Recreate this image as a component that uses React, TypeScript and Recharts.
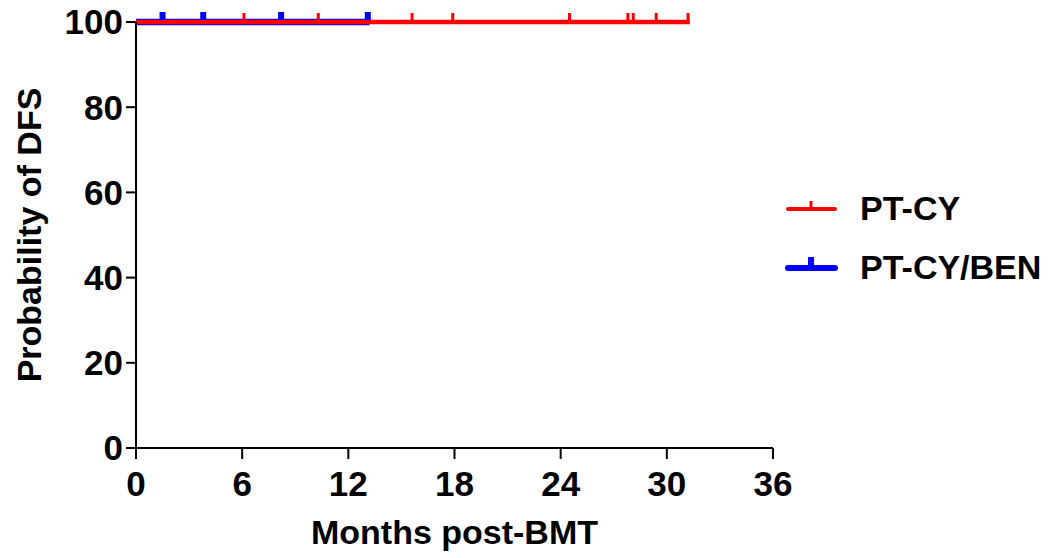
import React from "react";
import { ComposedChart, Line, Scatter, XAxis, YAxis, Legend } from "recharts";

// survival curves stay at 100% — line ends at last follow-up
const ptCyEnd = 31.3;
const ptCyBenEnd = 13.2;
// censored patients (months)
const ptCyCensored = [6.1, 10.3, 15.6, 17.9, 24.5, 27.8, 28.1, 29.4, 31.2];
const ptCyBenCensored = [1.5, 3.8, 8.2, 13.1];
const xTicks = [0, 6, 12, 18, 24, 30, 36];
const yTicks = [0, 20, 40, 60, 80, 100];

const FONT = "'Liberation Sans', Arial, Helvetica, sans-serif";
const RED = "#ff0000";
const BLUE = "#0000ff";

const curve = (end: number) => [
  { month: 0, prob: 100 },
  { month: end, prob: 100 },
];
const marks = (times: number[]) => times.map((t) => ({ month: t, prob: 100 }));

const RedMark = (props: any) => {
  const { cx, cy } = props;
  return <line x1={cx} y1={cy - 1} x2={cx} y2={cy - 9} stroke={RED} strokeWidth={3} />;
};

const BlueMark = (props: any) => {
  const { cx, cy } = props;
  return <rect x={cx - 3} y={cy - 10} width={6} height={8} fill={BLUE} />;
};

const YTitle = (props: any) => {
  const { viewBox } = props;
  const cy = viewBox.y + viewBox.height / 2;
  return (
    <text
      x={41}
      y={cy}
      transform={`rotate(-90, 41, ${cy})`}
      textAnchor="middle"
      fontFamily={FONT}
      fontWeight="bold"
      fontSize={34}
      fill="#000"
    >
      Probability of DFS
    </text>
  );
};

const LegendBox = () => (
  <svg width={270} height={110}>
    <line x1={10} y1={29} x2={57} y2={29} stroke={RED} strokeWidth={4} strokeLinecap="round" />
    <line x1={33} y1={29} x2={33} y2={21} stroke={RED} strokeWidth={3} />
    <text x={82} y={40} fontFamily={FONT} fontWeight="bold" fontSize={34} fill="#000">
      PT-CY
    </text>
    <line x1={10} y1={88} x2={57} y2={88} stroke={BLUE} strokeWidth={6} strokeLinecap="round" />
    <rect x={30} y={77} width={6} height={10} fill={BLUE} />
    <text x={82} y={99} fontFamily={FONT} fontWeight="bold" fontSize={34} fill="#000">
      PT-CY/BEN
    </text>
  </svg>
);

export default function App() {
  return (
    <div style={{ position: "absolute", left: 0, top: 0, width: 1050, height: 558, background: "#fff" }}>
      <ComposedChart width={1050} height={558} margin={{ top: 22, right: 277, bottom: 0, left: 0 }}>
        <XAxis
          type="number"
          dataKey="month"
          domain={[0, 36]}
          ticks={xTicks}
          allowDataOverflow
          height={110}
          stroke="#000"
          strokeWidth={2}
          tickSize={11}
          tickMargin={12}
          tick={{ fill: "#000", fontSize: 35, fontWeight: "bold", fontFamily: FONT }}
          label={{
            value: "Months post-BMT",
            position: "insideBottom",
            offset: 14,
            fill: "#000",
            fontSize: 34,
            fontWeight: "bold",
            fontFamily: FONT,
          }}
        />
        <YAxis
          type="number"
          dataKey="prob"
          domain={[0, 100]}
          ticks={yTicks}
          width={136}
          stroke="#000"
          strokeWidth={2}
          tickSize={10}
          tickMargin={3}
          tick={{ fill: "#000", fontSize: 35, fontWeight: "bold", fontFamily: FONT }}
          label={<YTitle />}
        />
        <Legend
          layout="vertical"
          align="center"
          verticalAlign="middle"
          content={() => <LegendBox />}
          wrapperStyle={{ left: 778, top: 180, width: 270, height: 110 }}
        />
        <Line
          data={curve(ptCyBenEnd)}
          dataKey="prob"
          name="PT-CY/BEN"
          stroke={BLUE}
          strokeWidth={6.5}
          dot={false}
          activeDot={false}
          isAnimationActive={false}
        />
        <Line
          data={curve(ptCyEnd)}
          dataKey="prob"
          name="PT-CY"
          stroke={RED}
          strokeWidth={4.5}
          dot={false}
          activeDot={false}
          isAnimationActive={false}
        />
        <Scatter data={marks(ptCyBenCensored)} dataKey="prob" shape={BlueMark} isAnimationActive={false} />
        <Scatter data={marks(ptCyCensored)} dataKey="prob" shape={RedMark} isAnimationActive={false} />
      </ComposedChart>
    </div>
  );
}
